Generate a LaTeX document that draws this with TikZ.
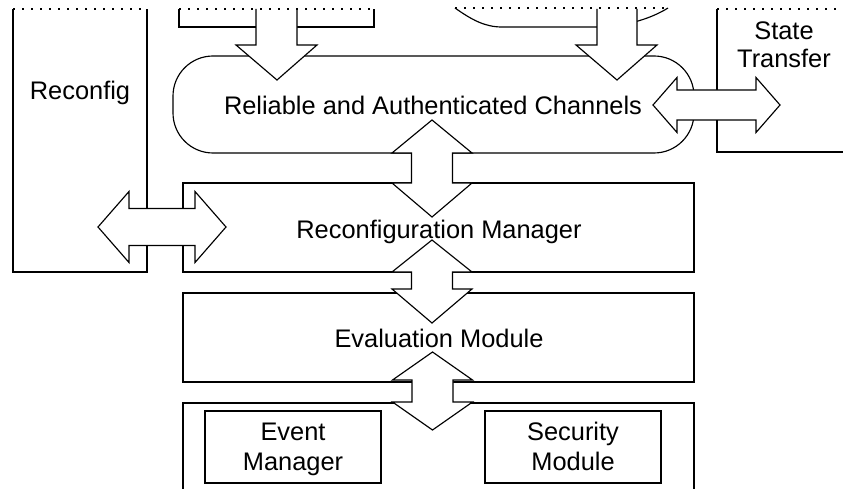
\documentclass[tikz,border=0pt]{standalone}
\usepackage{fontspec}
\setmainfont{Liberation Sans}
\tikzset{
  line/.style={draw=black, line width=1.15pt},
  box/.style={line, rectangle, inner sep=0pt},
  cut/.style={draw=black, line width=1.6pt, dash pattern=on 1.6pt off 7.4pt},
  blockarrow/.style={draw=black, fill=white, line width=1.15pt, line join=miter},
  lbl/.style={anchor=base, inner sep=0pt, font=\fontsize{25.4}{28}\selectfont},
}
% vertical double block arrow: x, top tip, upper head base, lower head base, bottom tip, half shaft, half head
\newcommand\blockV[7]{%
  \draw[blockarrow] (#1,#2) -- (#1+#7,#3) -- (#1+#6,#3) -- (#1+#6,#4) -- (#1+#7,#4)
    -- (#1,#5) -- (#1-#7,#4) -- (#1-#6,#4) -- (#1-#6,#3) -- (#1-#7,#3) -- cycle;}
% horizontal double block arrow: y, left tip, left head base, right head base, right tip, half shaft, half head
\newcommand\blockH[7]{%
  \draw[blockarrow] (#2,#1) -- (#3,#1-#7) -- (#3,#1-#6) -- (#4,#1-#6) -- (#4,#1-#7)
    -- (#5,#1) -- (#4,#1+#7) -- (#4,#1+#6) -- (#3,#1+#6) -- (#3,#1+#7) -- cycle;}
\begin{document}
\begin{tikzpicture}[x=1pt, y=-1pt]
\useasboundingbox (0,0) rectangle (843,489);

% ---- boxes cut by the top edge ----
\coordinate (rcTL) at (13,9);  \coordinate (rcTR) at (147,9);
\draw[line] (rcTL) -- (13,272) -- (147,272) -- (rcTR);
\node[lbl] (reconfig) at (80,100) {Reconfig};

\coordinate (upTL) at (179,9); \coordinate (upTR) at (374,9);
\draw[line] (upTL) -- (179,27) -- (374,27) -- (upTR);

\coordinate (ovTL) at (455,8); \coordinate (ovTR) at (668,8);
\draw[line] (ovTL) .. controls (472,20) and (485,27) .. (502,27) -- (600,27)
  .. controls (628,26) and (652,18) .. (ovTR);

\coordinate (stTL) at (717,9);
\draw[line] (843,152) -- (717,152) -- (stTL);
\node[lbl] (state1) at (784,40) {State};
\node[lbl] (state2) at (784,68) {Transfer};

% ---- main stack ----
\node[box, rounded corners=40pt, minimum width=521pt, minimum height=97pt] (chan) at (433.5,104.5) {};
\node[lbl] (chanlbl) at (433,115) {Reliable and Authenticated Channels};

\node[box, minimum width=511pt, minimum height=89pt] (rm) at (438.5,227.5) {};
\node[lbl] (rmlbl) at (439,238) {Reconfiguration Manager};

\node[box, minimum width=511pt, minimum height=89pt] (em) at (438.5,337.5) {};
\node[lbl] (emlbl) at (439,347) {Evaluation Module};

\coordinate (btBL) at (183,490); \coordinate (btBR) at (694,490);
\draw[line] (btBL) -- (183,403) -- (694,403) -- (btBR);

\node[box, minimum width=176pt, minimum height=72pt] (ev) at (293,447) {};
\node[lbl] (ev1) at (293,440) {Event};
\node[lbl] (ev2) at (293,470) {Manager};

\node[box, minimum width=176pt, minimum height=72pt] (sec) at (573,447) {};
\node[lbl] (sec1) at (573,440) {Security};
\node[lbl] (sec2) at (573,470) {Module};

% ---- block arrows ----
% inputs from the cut boxes into the channels
\draw[blockarrow] (256,9) -- (256,45) -- (236,45) -- (277,80) -- (317,45) -- (297,45) -- (297,9);
\draw[blockarrow] (597,9) -- (597,45) -- (576,45) -- (617,80) -- (657,45) -- (637,45) -- (637,9);
% channels <-> state transfer
\blockH{105}{653}{677}{756}{780}{15}{27.5}
% channels <-> reconfiguration manager
\blockV{432}{120}{153}{183}{217}{20.5}{40}
% reconfiguration manager <-> evaluation module
\blockV{432}{240}{272}{289}{323}{20.5}{40}
% evaluation module <-> lower box
\blockV{432.5}{352}{380}{402}{430}{20.5}{40}
% reconfig <-> reconfiguration manager
\blockH{227}{98}{129}{195}{226}{18.5}{35.5}

% ---- dotted cut lines along the top ----
\draw[cut] (rcTL) -- (rcTR);
\draw[cut] (upTL) -- (upTR);
\draw[cut] (ovTL) -- (ovTR);
\draw[cut] (stTL) -- (843,9);
\end{tikzpicture}
\end{document}
